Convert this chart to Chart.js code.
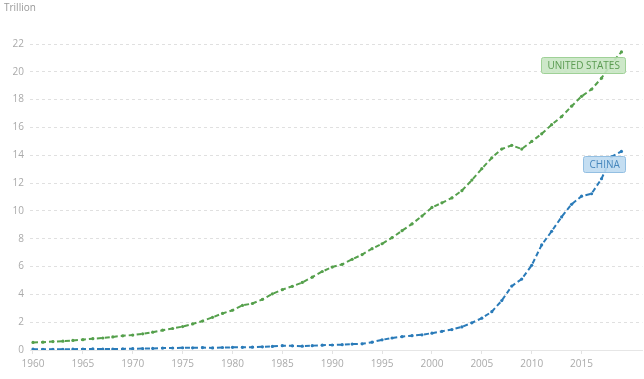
<!DOCTYPE html>
<html>
<head>
<meta charset="utf-8">
<script src="https://cdn.jsdelivr.net/npm/chart.js@4.4.1/dist/chart.umd.min.js"></script>
<style>
html,body{margin:0;padding:0;background:#fff;}
#wrap{width:644px;height:379px;position:relative;}
</style>
</head>
<body>
<div id="wrap"><canvas id="c" width="644" height="379"></canvas></div>
<script>
const years = [];
for (let y = 1960; y <= 2019; y++) years.push(y);

const usGDP = [0.543,0.563,0.605,0.638,0.686,0.744,0.815,0.862,0.943,1.020,
1.073,1.165,1.279,1.425,1.545,1.684,1.873,2.082,2.352,2.627,
2.857,3.207,3.343,3.634,4.037,4.339,4.580,4.855,5.236,5.642,
5.963,6.158,6.520,6.859,7.287,7.640,8.073,8.578,9.063,9.631,
10.252,10.582,10.936,11.458,12.214,13.037,13.815,14.452,14.713,14.449,
14.992,15.543,16.197,16.785,17.527,18.238,18.745,19.543,20.612,21.433];

const chinaGDP = [0.0597,0.0500,0.0472,0.0507,0.0597,0.0704,0.0767,0.0729,0.0700,0.0787,
0.0926,0.0998,0.1136,0.1385,0.1442,0.1634,0.1539,0.1749,0.1495,0.1783,
0.1911,0.1958,0.2051,0.2303,0.2599,0.3094,0.3008,0.2730,0.3123,0.3478,
0.3609,0.3834,0.4269,0.4447,0.5643,0.7340,0.8637,0.9616,1.0290,1.0940,
1.2113,1.3393,1.4709,1.6603,1.9553,2.2860,2.7521,3.5522,4.5944,5.1017,
6.0872,7.5515,8.5323,9.5704,10.4757,11.0616,11.2333,12.3104,13.8948,14.2799];

const xTickYears = [1960,1965,1970,1975,1980,1985,1990,1995,2000,2005,2010,2015];
const yTicks = [0,2,4,6,8,10,12,14,16,18,20,22];
const seriesNames = ['UNITED STATES','CHINA'];

const GREEN = '#55a04c';
const BLUE = '#2a7bb9';
const FONT = "'Open Sans', sans-serif";

const endLabels = {
  id: 'endLabels',
  afterDatasetsDraw(chart) {
    const ctx = chart.ctx;
    const xs = chart.scales.x, ys = chart.scales.y;
    const styles = [
      {fill:'rgba(200,230,195,0.9)', stroke:'#9fd197', text:'#5a9b51'},
      {fill:'rgba(190,218,241,0.9)', stroke:'#93bfe2', text:'#4787bd'}
    ];
    chart.data.datasets.forEach((ds, i) => {
      const last = ds.data[ds.data.length - 1];
      const px = xs.getPixelForValue(last.x);
      const py = ys.getPixelForValue(last.y);
      ctx.save();
      ctx.font = '10px ' + FONT;
      const tw = ctx.measureText(seriesNames[i]).width;
      const w = tw + 12, h = 16;
      const right = px + 4, top = py + 5;
      const st = styles[i];
      ctx.fillStyle = st.fill;
      ctx.strokeStyle = st.stroke;
      ctx.lineWidth = 1;
      ctx.beginPath();
      ctx.roundRect(Math.round(right - w) + 0.5, Math.round(top) + 0.5, Math.round(w), h, 2);
      ctx.fill();
      ctx.stroke();
      ctx.fillStyle = st.text;
      ctx.textAlign = 'center';
      ctx.textBaseline = 'middle';
      ctx.fillText(seriesNames[i], Math.round(right - w) + w / 2 + 0.5, Math.round(top) + h / 2 + 1);
      ctx.restore();
    });
  }
};

function pts(arr) { return arr.map((v, i) => ({x: years[i], y: v})); }

new Chart(document.getElementById('c'), {
  type: 'line',
  data: {
    datasets: [
      {label: seriesNames[0], data: pts(usGDP), borderColor: GREEN, backgroundColor: GREEN,
       borderWidth: 2, borderDash: [5, 3], pointRadius: 1.6, pointHoverRadius: 1.6, pointBorderWidth: 0,
       pointBackgroundColor: GREEN, tension: 0, fill: false},
      {label: seriesNames[1], data: pts(chinaGDP), borderColor: BLUE, backgroundColor: BLUE,
       borderWidth: 2, borderDash: [5, 3], pointRadius: 1.6, pointHoverRadius: 1.6, pointBorderWidth: 0,
       pointBackgroundColor: BLUE, tension: 0, fill: false}
    ]
  },
  options: {
    responsive: false,
    animation: false,
    events: [],
    layout: {padding: {left: 4, right: 1, top: 2, bottom: 5}},
    plugins: {
      legend: {display: false},
      tooltip: {enabled: false},
      title: {display: true, text: 'Trillion', align: 'start', color: '#999',
              font: {family: FONT, size: 10, weight: 'normal'}, padding: {top: 0, bottom: 30}}
    },
    scales: {
      x: {
        type: 'linear', min: 1959.7, max: 2021.1,
        afterBuildTicks(s) { s.ticks = xTickYears.map(v => ({value: v})); },
        grid: {drawOnChartArea: false, drawTicks: true, tickLength: 4, color: '#e2e2e2'},
        border: {display: true, color: '#e6e6e6'},
        ticks: {color: '#aaa', font: {family: FONT, size: 10}, padding: 4, maxRotation: 0,
                autoSkip: false, callback: v => String(v)}
      },
      y: {
        min: 0, max: 22,
        afterBuildTicks(s) { s.ticks = yTicks.map(v => ({value: v})); },
        afterFit(s) { s.width = 26; },
        grid: {color: '#e0e0e0', drawTicks: false, lineWidth: 1},
        border: {display: false, dash: [3, 3]},
        ticks: {color: '#aaa', font: {family: FONT, size: 10}, padding: 6}
      }
    }
  },
  plugins: [endLabels]
});
</script>
</body>
</html>
